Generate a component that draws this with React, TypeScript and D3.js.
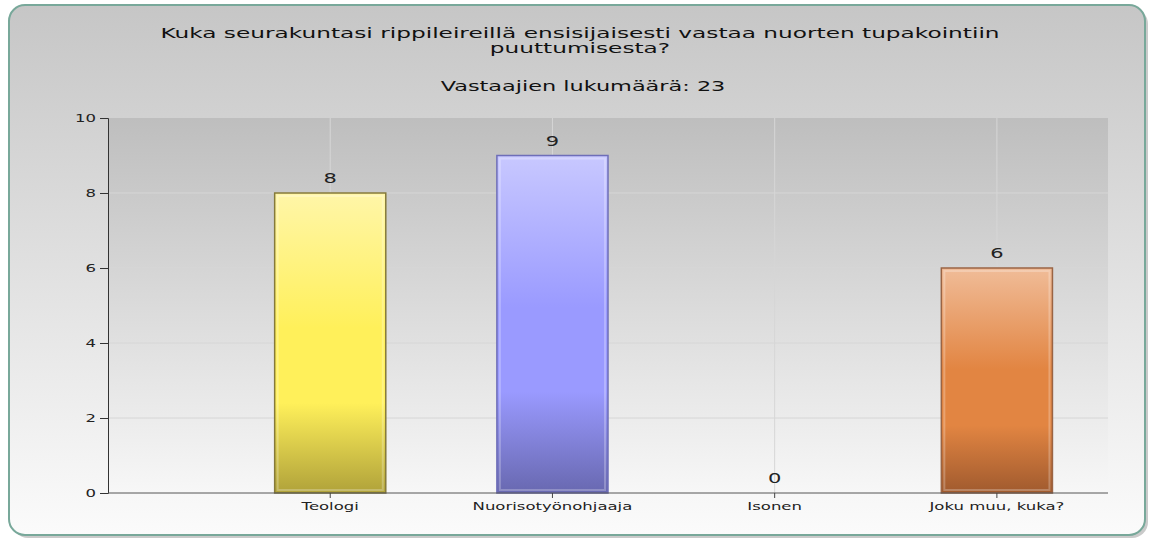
import { useRef, useEffect } from 'react';
import * as d3 from 'd3';

const categories = ['Teologi', 'Nuorisotyönohjaaja', 'Isonen', 'Joku muu, kuka?'];
const counts = [8, 9, 0, 6];
const yTicks = [0, 2, 4, 6, 8, 10];
const titleLines = [
  'Kuka seurakuntasi rippileireillä ensisijaisesti vastaa nuorten tupakointiin',
  'puuttumisesta?',
];
const subtitle = 'Vastaajien lukumäärä: 23';

// top / middle / bottom / border per bar
const barColors = [
  ['#fff6a8', '#fff05a', '#b0a23a', '#857a3a'],
  ['#c8c8ff', '#9a9aff', '#6868b0', '#6e6eb8'],
  ['#c8c8ff', '#9a9aff', '#6868b0', '#6e6eb8'],
  ['#f0bc98', '#e28542', '#a05a2e', '#9a6444'],
];

const SX = 1.5; // the source image is stretched horizontally

const App = () => {
  const ref = useRef<SVGSVGElement>(null);

  useEffect(() => {
    const svg = d3.select(ref.current);
    svg.selectAll('*').remove();
    const plot = { left: 108, right: 1108, top: 118, bottom: 493 };
    const font = 'Verdana, "DejaVu Sans", sans-serif';

    const defs = svg.append('defs');
    const bg = defs.append('linearGradient').attr('id', 'bg').attr('x1', 0).attr('y1', 0).attr('x2', 0).attr('y2', 1);
    bg.append('stop').attr('offset', 0).attr('stop-color', '#c6c6c6');
    bg.append('stop').attr('offset', 1).attr('stop-color', '#fbfbfb');
    const pg = defs.append('linearGradient').attr('id', 'pg').attr('x1', 0).attr('y1', 0).attr('x2', 0).attr('y2', 1);
    pg.append('stop').attr('offset', 0).attr('stop-color', '#bebebe');
    pg.append('stop').attr('offset', 1).attr('stop-color', '#f7f7f7');
    barColors.forEach((c, i) => {
      const g = defs.append('linearGradient').attr('id', `bar${i}`).attr('x1', 0).attr('y1', 0).attr('x2', 0).attr('y2', 1);
      g.append('stop').attr('offset', 0).attr('stop-color', c[0]);
      g.append('stop').attr('offset', 0.45).attr('stop-color', c[1]);
      g.append('stop').attr('offset', 0.7).attr('stop-color', c[1]);
      g.append('stop').attr('offset', 1).attr('stop-color', c[2]);
    });

    // outer panel
    svg.append('rect').attr('x', 12).attr('y', 8).attr('width', 1136).attr('height', 530)
      .attr('rx', 16).attr('fill', '#8a8a8a').attr('opacity', 0.45);
    svg.append('rect').attr('x', 9).attr('y', 5).attr('width', 1136).attr('height', 530)
      .attr('rx', 16).attr('fill', 'url(#bg)').attr('stroke', '#78a89a').attr('stroke-width', 2);

    // plot background
    svg.append('rect').attr('x', plot.left).attr('y', plot.top)
      .attr('width', plot.right - plot.left).attr('height', plot.bottom - plot.top)
      .attr('fill', 'url(#pg)');

    const x = d3.scaleBand<string>()
      .domain(categories)
      .range([plot.left + (plot.right - plot.left) / 9, plot.right])
      .padding(0);
    const y = d3.scaleLinear().domain([0, 10]).range([plot.bottom, plot.top]);
    const barW = x.bandwidth() * 0.5;
    const cx = (c: string) => (x(c) as number) + x.bandwidth() / 2;

    // grid
    svg.append('g').selectAll('line.h').data(yTicks.filter(t => t > 0 && t < 10)).enter().append('line')
      .attr('x1', plot.left).attr('x2', plot.right)
      .attr('y1', d => y(d)).attr('y2', d => y(d))
      .attr('stroke', '#d6d6d6').attr('stroke-width', 1);
    svg.append('g').selectAll('line.v').data(categories).enter().append('line')
      .attr('x1', d => cx(d)).attr('x2', d => cx(d))
      .attr('y1', plot.top).attr('y2', plot.bottom)
      .attr('stroke', '#d6d6d6').attr('stroke-width', 1);

    // bars
    const bars = svg.append('g');
    categories.forEach((c, i) => {
      const v = counts[i];
      if (v <= 0) return;
      const x0 = cx(c) - barW / 2;
      const y0 = y(v);
      const h = y(0) - y0;
      bars.append('rect').attr('x', x0).attr('y', y0).attr('width', barW).attr('height', h)
        .attr('fill', `url(#bar${i})`).attr('stroke', barColors[i][3]).attr('stroke-width', 1.5);
      bars.append('rect').attr('x', x0 + 3).attr('y', y0 + 3).attr('width', barW - 6).attr('height', h - 6)
        .attr('fill', 'none').attr('stroke', '#ffffff').attr('stroke-opacity', 0.25).attr('stroke-width', 2);
    });

    // value labels
    svg.append('g').selectAll('text').data(categories).enter().append('text')
      .attr('transform', (d, i) => `translate(${cx(d)},${y(counts[i]) - 10}) scale(${SX},1)`)
      .attr('text-anchor', 'middle')
      .attr('font-family', font).attr('font-size', 14).attr('fill', '#222')
      .text((d, i) => counts[i]);

    // y axis
    const yAxis = svg.append('g').attr('transform', `translate(${plot.left},0)`)
      .call(d3.axisLeft(y).tickValues(yTicks).tickSize(8).tickPadding(0));
    yAxis.select('.domain').attr('stroke', '#333');
    yAxis.selectAll('.tick line').attr('stroke', '#333');
    yAxis.selectAll('.tick text').attr('x', null)
      .attr('transform', `translate(-12,0) scale(${SX},1)`)
      .attr('font-family', font).attr('font-size', 11).attr('fill', '#222');

    // x axis
    const xAxis = svg.append('g').attr('transform', `translate(0,${plot.bottom})`)
      .call(d3.axisBottom(x).tickSize(5).tickPadding(4).tickSizeOuter(0));
    xAxis.select('.domain').attr('d', `M${plot.left},0H${plot.right}`).attr('stroke', '#555');
    xAxis.selectAll('.tick line').attr('stroke', '#444');
    xAxis.selectAll('.tick text').attr('transform', `scale(${SX},1)`)
      .attr('font-family', font).attr('font-size', 11).attr('fill', '#222');

    // titles
    const t = svg.append('g').attr('font-family', font).attr('font-size', 14).attr('fill', '#111')
      .attr('text-anchor', 'middle');
    titleLines.forEach((line, i) => {
      t.append('text').attr('transform', `translate(580,${38 + i * 15}) scale(1.66,1)`).text(line);
    });
    t.append('text').attr('transform', `translate(583,91) scale(1.6,1)`).text(subtitle);
  }, []);

  return (
    <svg ref={ref} width={1152} height={539}
      style={{ position: 'fixed', left: 0, top: 0, background: '#fff' }} />
  );
};

export default App;
